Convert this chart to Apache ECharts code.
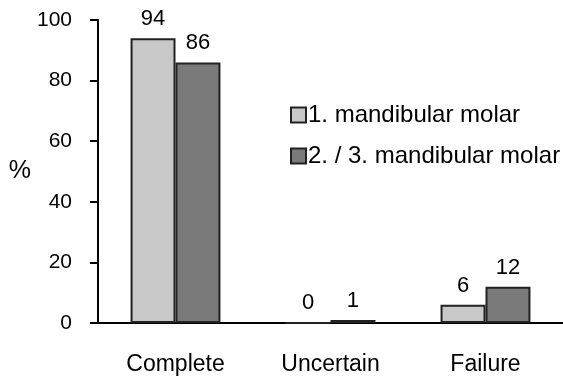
<!DOCTYPE html>
<html>
<head>
<meta charset="utf-8">
<script src="https://cdn.jsdelivr.net/npm/echarts@6/dist/echarts.min.js"></script>
<style>
  html, body { margin: 0; padding: 0; background: #fff; }
  #chart { width: 563px; height: 379px; }
</style>
</head>
<body>
<div id="chart"></div>
<script>
// Treatment outcome by tooth group (%)
const categories = ['Complete', 'Uncertain', 'Failure'];
const firstMolar = [94, 0, 6];
const secondThirdMolar = [86, 1, 12];
const seriesNames = ['1. mandibular molar', '2. / 3. mandibular molar'];
const yTicks = { min: 0, max: 100, interval: 20 };

const FONT = '"Liberation Sans", Arial, Helvetica, sans-serif';
const chart = echarts.init(document.getElementById('chart'), null, { renderer: 'canvas' });

const valueLabel = {
  show: true,
  position: 'top',
  distance: 8,
  color: '#000',
  fontFamily: FONT,
  fontSize: 22
};

chart.setOption({
  animation: false,
  backgroundColor: '#fff',
  grid: { left: 98, top: 20, width: 468, bottom: 56, containLabel: false },
  legend: {
    orient: 'vertical',
    left: 285,
    top: 98,
    itemWidth: 15,
    itemHeight: 15,
    itemGap: 17,
    icon: 'rect',
    textStyle: { fontFamily: FONT, fontSize: 24, color: '#000', padding: [0, 0, 0, -3] },
    data: seriesNames
  },
  xAxis: {
    type: 'category',
    data: categories,
    axisLine: { lineStyle: { color: '#000', width: 2 } },
    axisTick: { show: false },
    axisLabel: { color: '#000', fontFamily: FONT, fontSize: 23, margin: 30 }
  },
  yAxis: {
    type: 'value',
    min: yTicks.min,
    max: yTicks.max,
    interval: yTicks.interval,
    name: '%',
    nameLocation: 'middle',
    nameRotate: 0,
    nameGap: 66,
    nameTextStyle: { color: '#000', fontFamily: FONT, fontSize: 25, padding: [8, 0, 0, 0] },
    splitLine: { show: false },
    axisLine: { show: true, lineStyle: { color: '#000', width: 2 } },
    axisTick: { show: true, length: 8, lineStyle: { color: '#000', width: 2 } },
    axisLabel: { color: '#000', fontFamily: FONT, fontSize: 21, margin: 26 }
  },
  series: [
    {
      name: seriesNames[0],
      type: 'bar',
      data: firstMolar,
      barGap: '0%',
      barCategoryGap: '42%',
      itemStyle: { color: '#c8c8c8', borderColor: '#222', borderWidth: 2 },
      label: valueLabel
    },
    {
      name: seriesNames[1],
      type: 'bar',
      data: secondThirdMolar,
      itemStyle: { color: '#7a7a7a', borderColor: '#222', borderWidth: 2 },
      label: valueLabel
    }
  ]
});
</script>
</body>
</html>
